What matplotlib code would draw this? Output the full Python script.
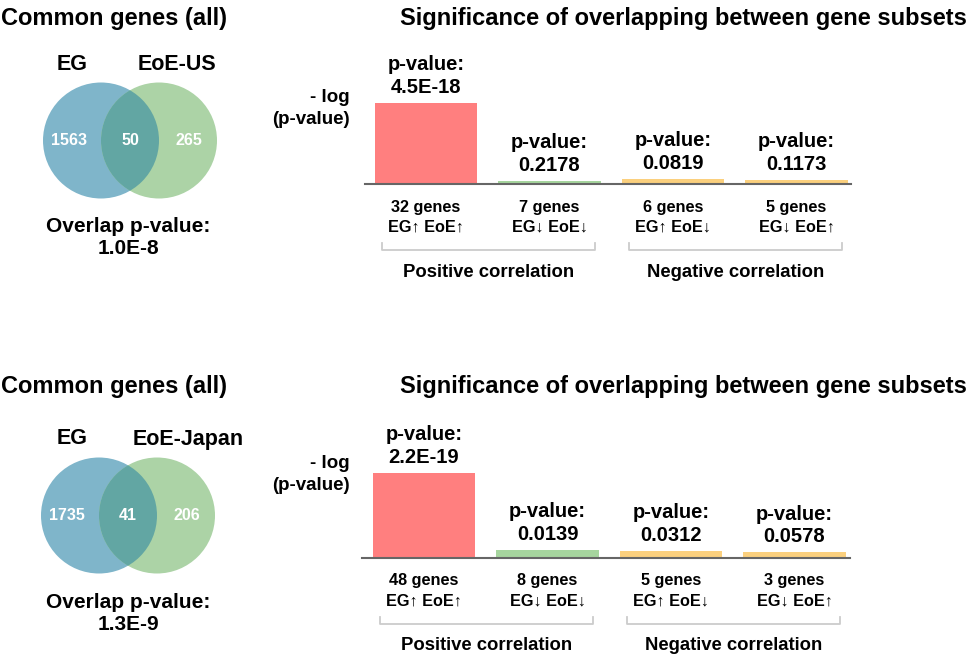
import matplotlib.pyplot as plt
import matplotlib.transforms as mtransforms
from matplotlib.patches import Circle
import numpy as np

plt.rcParams['font.family'] = ['Liberation Sans', 'DejaVu Sans']
plt.rcParams['font.weight'] = 'bold'

# ---- data ----
set_names = [["EG", "EoE-US"], ["EG", "EoE-Japan"]]
venn_counts = [[1563, 50, 265], [1735, 41, 206]]
overlap_p = [1.0e-8, 1.3e-9]
gene_counts = [[32, 7, 6, 5], [48, 8, 5, 3]]
subset_p = [[4.5e-18, 0.2178, 0.0819, 0.1173],
            [2.2e-19, 0.0139, 0.0312, 0.0578]]
direction_labels = ["EG\u2191 EoE\u2191", "EG\u2193 EoE\u2193",
                    "EG\u2191 EoE\u2193", "EG\u2193 EoE\u2191"]
groups = [("Positive correlation", 0, 1), ("Negative correlation", 2, 3)]
bar_colors = ['#ff7f7f', '#a6d59e', '#fbd07e', '#fbd07e']


def fmt_p(p):
    if p < 1e-3:
        m, e = f"{p:.1E}".split("E")
        return f"{m}E{int(e)}"
    return f"{p:.4f}"


W, H = 978, 661
fig = plt.figure(figsize=(W / 100, H / 100), dpi=100)


def px_axes(x0, y0, x1, y1):
    return fig.add_axes([x0 / W, 1 - y1 / H, (x1 - x0) / W, (y1 - y0) / H])


def ftext(x, y, s, **kw):
    fig.text(x / W, 1 - y / H, s, **kw)


row_off = [0, 375]
bar_x0 = [426, 424]          # centre of first bar, px
bar_step = 123.5
px_per_unit = [4.67, 4.56]
r_px = 58

for r in range(2):
    dy = row_off[r]
    ty = 19 + dy - (8 if r else 0)

    # ---- titles ----
    ftext(1, ty, "Common genes (all)", fontsize=17, ha='left', va='center')
    ftext(400, ty, "Significance of overlapping between gene subsets",
          fontsize=17, ha='left', va='center')

    # ---- venn ----
    cx, cy = (130 if r == 0 else 128), 140.5 + dy
    vax = px_axes(cx - 1.6 * r_px, cy - 1.05 * r_px, cx + 1.6 * r_px, cy + 1.05 * r_px)
    vax.set_xlim(-1.6, 1.6)
    vax.set_ylim(-1.05, 1.05)
    vax.axis('off')
    c1 = Circle((-0.5, 0), 1, color='#7fb5ca', lw=0)
    c2 = Circle((0.5, 0), 1, color='#acd3a6', lw=0)
    vax.add_patch(c1)
    vax.add_patch(c2)
    lens = Circle((0.5, 0), 1, color='#62a6a3', lw=0)
    vax.add_patch(lens)
    lens.set_clip_path(c1)
    for xpos, n in zip([-1.05, 0, 1.02], venn_counts[r]):
        vax.text(xpos, 0, str(n), color='white', fontsize=11.5,
                 ha='center', va='center')
    ftext(72, 64 + dy, set_names[r][0], fontsize=15.5, ha='center', va='center')
    ftext(177 if r == 0 else 188, 64 + dy, set_names[r][1], fontsize=15.5,
          ha='center', va='center')
    ftext(128, 227 + dy, "Overlap p-value:", fontsize=15, ha='center', va='center')
    ftext(128, 249 + dy, fmt_p(overlap_p[r]), fontsize=15, ha='center', va='center')

    # ---- bar chart ----
    base = 184 + dy - (1 if r else 0)
    top = base - 130
    left = 365 if r == 0 else 362
    right = 851 if r == 0 else 850
    ax = px_axes(left, top, right, base)
    heights = -np.log10(subset_p[r])
    idx = np.arange(len(heights))
    ax.bar(idx, heights, width=0.83, color=bar_colors)
    ax.set_xlim((left - bar_x0[r]) / bar_step, (right - bar_x0[r]) / bar_step)
    ax.set_ylim(0, 130 / px_per_unit[r])
    for s in ['top', 'right', 'left']:
        ax.spines[s].set_visible(False)
    ax.spines['bottom'].set_color('#666666')
    ax.spines['bottom'].set_linewidth(1.5)
    ax.set_xticks([])
    ax.set_yticks([])
    ax.patch.set_alpha(0)

    for i, (h, p) in enumerate(zip(heights, subset_p[r])):
        ax.annotate(f"p-value:\n{fmt_p(p)}", (i, h), xytext=(0, 6),
                    textcoords='offset pixels', ha='center', va='bottom',
                    fontsize=14.5, linespacing=1.25, annotation_clip=False)
        ax.annotate(f"{gene_counts[r][i]} genes", (i, 0), xytext=(0, -23),
                    textcoords='offset pixels', ha='center', va='center',
                    fontsize=11.7, annotation_clip=False)
        ax.annotate(direction_labels[i], (i, 0), xytext=(0, -43),
                    textcoords='offset pixels', ha='center', va='center',
                    fontsize=11.7, annotation_clip=False)

    trans = mtransforms.blended_transform_factory(ax.transData, ax.transAxes)
    yb = -66 / 130
    yt = -59 / 130
    for label, a, b in groups:
        xa, xb = a - 0.36, b + 0.37
        ax.plot([xa, xa, xb, xb], [yt, yb, yb, yt], color='#cccccc', lw=1.3,
                transform=trans, clip_on=False)
        ax.text((xa + xb) / 2, -88 / 130, label, transform=trans, fontsize=13.3,
                ha='center', va='center')

    ftext(350, 97 + dy + (-9 if r else 0), "- log", fontsize=13.5, ha='right', va='center')
    ftext(350, 119 + dy + (-9 if r else 0), "(p-value)", fontsize=13.5, ha='right', va='center')

fig.savefig('out.png', dpi=100)
